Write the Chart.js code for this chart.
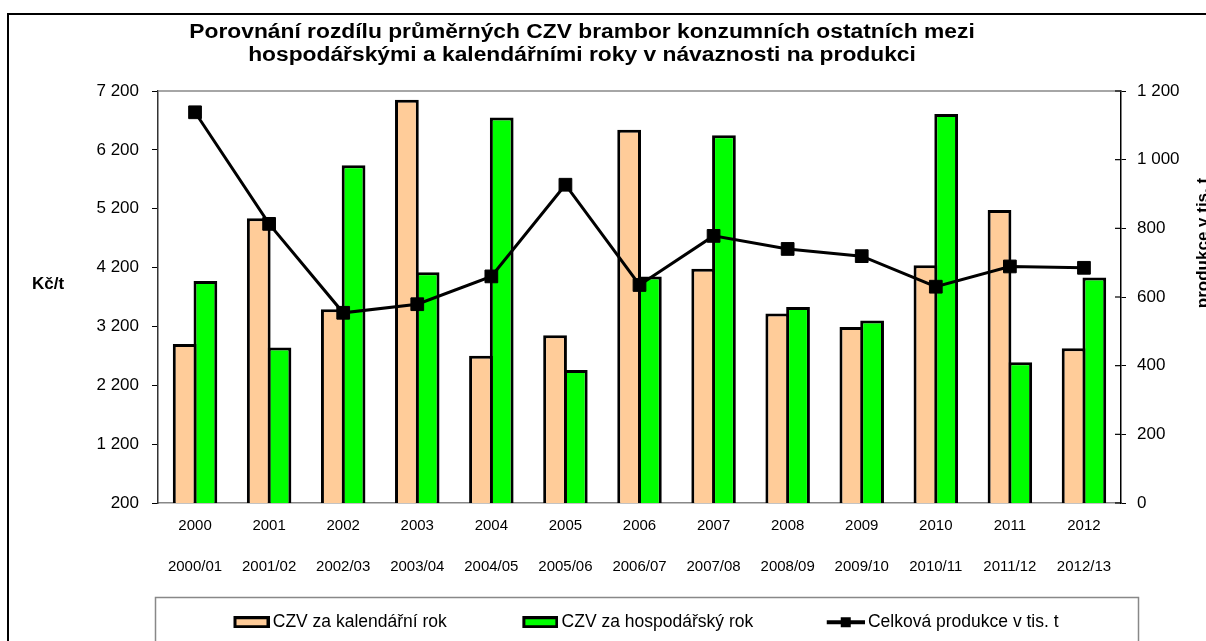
<!DOCTYPE html>
<html>
<head>
<meta charset="utf-8">
<script src="https://cdn.jsdelivr.net/npm/chart.js@4/dist/chart.umd.min.js"></script>
<style>
  html, body { margin: 0; padding: 0; background: #fff; overflow: hidden; }
  #wrap { position: relative; width: 1206px; height: 641px; }
  #frame { position: absolute; left: 7px; top: 13px; width: 1300px; height: 700px; border: 2px solid #000; box-sizing: border-box; }
  canvas { position: absolute; left: 0; top: 0; }
</style>
</head>
<body>
<div id="wrap">
  <div id="frame"></div>
  <canvas id="myChart" width="1206" height="641"></canvas>
</div>
<script>
const years = ['2000', '2001', '2002', '2003', '2004', '2005', '2006', '2007', '2008', '2009', '2010', '2011', '2012'];
const seasons = ['2000/01', '2001/02', '2002/03', '2003/04', '2004/05', '2005/06', '2006/07', '2007/08', '2008/09', '2009/10', '2010/11', '2011/12', '2012/13'];
// Kč/t
const calendarPrice = [2900, 5040, 3490, 7050, 2700, 3050, 6540, 4180, 3420, 3190, 4240, 5180, 2830];
const seasonPrice = [3970, 2840, 5940, 4120, 6750, 2460, 4050, 6450, 3530, 3300, 6810, 2590, 4030];
// tis. t
const production = [1138, 813, 554, 579, 660, 927, 635, 778, 740, 719, 630, 689, 685];

const titleLines = ['Porovnání rozdílu průměrných CZV brambor konzumních ostatních mezi', 'hospodářskými a kalendářními roky v návaznosti na produkci'];
const FONT = "'Liberation Sans', Arial, sans-serif";

function spaced(v) {
  return String(v).replace(/\B(?=(\d{3})+(?!\d))/g, ' ');
}

// ikonky do legendy (vlevo průhledná mezera = rozestup položek)
function barIcon(fill) {
  const c = document.createElement('canvas');
  c.width = 81; c.height = 12;
  const g = c.getContext('2d');
  g.fillStyle = '#000';
  g.fillRect(45, 0, 36, 12);
  g.fillStyle = fill;
  g.fillRect(48, 3, 30, 6);
  return c;
}
function lineIcon() {
  const c = document.createElement('canvas');
  c.width = 81; c.height = 12;
  const g = c.getContext('2d');
  g.fillStyle = '#000';
  g.fillRect(43, 4, 38, 4);
  g.fillRect(57, 1, 10, 10);
  return c;
}
const legendIcons = [barIcon('#FFCC99'), barIcon('#00FF00'), lineIcon()];

const extras = {
  id: 'extras',
  afterDraw(chart) {
    const ctx = chart.ctx;
    const area = chart.chartArea;
    const y1 = chart.scales.y1;
    ctx.save();
    // horní okraj plochy grafu
    ctx.strokeStyle = '#888';
    ctx.lineWidth = 1.5;
    ctx.beginPath();
    ctx.moveTo(area.left, area.top);
    ctx.lineTo(area.right, area.top);
    ctx.stroke();
    // vnitřní značky pravé osy
    ctx.strokeStyle = '#000';
    ctx.lineWidth = 1.2;
    y1.ticks.forEach(t => {
      const py = y1.getPixelForValue(t.value);
      ctx.beginPath();
      ctx.moveTo(area.right - 6, py);
      ctx.lineTo(area.right, py);
      ctx.stroke();
    });
    // rámeček legendy
    ctx.strokeStyle = '#888';
    ctx.lineWidth = 1.5;
    ctx.strokeRect(155.5, 597.5, 983, 100);
    // nadpis
    ctx.fillStyle = '#000';
    ctx.textAlign = 'center';
    ctx.textBaseline = 'middle';
    ctx.font = 'bold 20px ' + FONT;
    [32, 55].forEach((y, i) => {
      ctx.save();
      ctx.translate(582, y);
      ctx.scale(1.14, 1);
      ctx.fillText(titleLines[i], 0, 0);
      ctx.restore();
    });
    // popisky os
    ctx.font = 'bold 17px ' + FONT;
    ctx.fillText('Kč/t', 48, 284);
    ctx.translate(1195, 243);
    ctx.rotate(-Math.PI / 2);
    ctx.textBaseline = 'top';
    ctx.fillText('produkce v tis. t', 0, 0);
    ctx.restore();
  }
};

const ctx = document.getElementById('myChart');
const myChart = new Chart(ctx, {
  type: 'bar',
  data: {
    labels: years.map((y, i) => [y, seasons[i]]),
    datasets: [
      {
        label: 'CZV za kalendářní rok',
        data: calendarPrice,
        yAxisID: 'y',
        order: 1,
        backgroundColor: '#FFCC99',
        borderColor: '#000',
        borderWidth: 3,
        borderSkipped: false,
        barPercentage: 1.145,
        categoryPercentage: 0.56,
      },
      {
        label: 'CZV za hospodářský rok',
        data: seasonPrice,
        yAxisID: 'y',
        order: 2,
        backgroundColor: '#00FF00',
        borderColor: '#000',
        borderWidth: 3,
        borderSkipped: false,
        barPercentage: 1.145,
        categoryPercentage: 0.56,
      },
      {
        type: 'line',
        label: 'Celková produkce v tis. t',
        data: production,
        yAxisID: 'y1',
        order: 0,
        borderColor: '#000',
        borderWidth: 3,
        tension: 0,
        pointStyle: 'rect',
        pointRadius: 9,
        pointBackgroundColor: '#000',
        pointBorderColor: '#000',
        pointBorderWidth: 1,
      },
    ],
  },
  options: {
    responsive: false,
    animation: false,
    layout: { padding: { top: 91, left: 0, right: 0, bottom: 0 } },
    scales: {
      x: {
        grid: { display: false, drawTicks: false },
        border: { display: true, color: '#888', width: 1.5 },
        ticks: {
          color: '#000',
          padding: 2.5,
          maxRotation: 0,
          autoSkip: false,
          font: { family: FONT, size: 15, lineHeight: '41px' },
        },
        afterFit(scale) { scale.height = 74.5; },
      },
      y: {
        position: 'left',
        min: 200,
        max: 7200,
        grid: { drawOnChartArea: false, drawTicks: true, tickLength: 6, color: '#000' },
        border: { color: '#333', width: 1.5 },
        ticks: {
          stepSize: 1000,
          padding: 13,
          color: '#000',
          font: { family: FONT, size: 17 },
          callback: v => spaced(v),
        },
        afterFit(scale) { scale.width = 158; },
      },
      y1: {
        position: 'right',
        min: 0,
        max: 1200,
        grid: { drawOnChartArea: false, drawTicks: true, tickLength: 5, color: '#000' },
        border: { color: '#000', width: 1.5 },
        ticks: {
          stepSize: 200,
          padding: 11,
          color: '#000',
          font: { family: FONT, size: 17 },
          callback: v => spaced(v),
        },
        afterFit(scale) { scale.width = 85; },
      },
    },
    plugins: {
      title: { display: false },
      tooltip: { enabled: false },
      legend: {
        position: 'bottom',
        align: 'start',
        fullSize: false,
        labels: {
          color: '#000',
          padding: 36,
          usePointStyle: true,
          pointStyleWidth: 70,
          font: { family: FONT, size: 17.5 },
          sort: (a, b) => a.datasetIndex - b.datasetIndex,
          generateLabels(chart) {
            const items = Chart.defaults.plugins.legend.labels.generateLabels(chart);
            items.forEach(it => { it.pointStyle = legendIcons[it.datasetIndex]; });
            return items;
          },
        },
      },
    },
  },
  plugins: [extras],
});
</script>
</body>
</html>
